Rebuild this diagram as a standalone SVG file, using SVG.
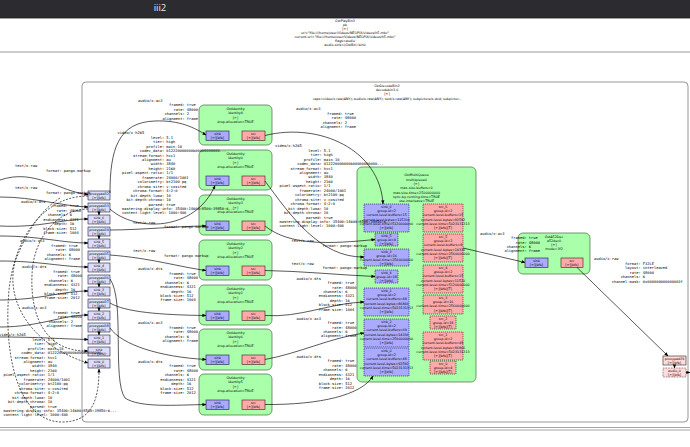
<svg xmlns="http://www.w3.org/2000/svg" width="690" height="447" viewBox="0 0 690 447">
<defs>
<style>
.c{font-family:"DejaVu Sans Mono","Liberation Mono",monospace;font-size:3.7px;fill:#000}
.n{font-family:"DejaVu Sans","Liberation Sans",sans-serif;font-size:3.3px;text-anchor:middle;fill:#000}
.el{fill:#aaffaa;stroke:#3f6f3f;stroke-width:.7}
.bin{fill:#fff;stroke:#8c8c8c;stroke-width:.9}
.sk{fill:#aaaaff;stroke:#1a1a3a;stroke-width:.6}
.sr{fill:#ffaaaa;stroke:#3a1a1a;stroke-width:.6}
.rq{stroke-dasharray:1.2 .8}
.gp{fill:#ddddff;stroke:#1a1a3a;stroke-width:.6}
.gs{fill:#ffdddd;stroke:#3a1a1a;stroke-width:.6}
.e{fill:none;stroke:#000;stroke-width:.65;marker-end:url(#a)}
.d{stroke-dasharray:2 1.4}
</style>
<marker id="a" viewBox="0 0 10 10" refX="9" refY="5" markerWidth="4" markerHeight="4" markerUnits="userSpaceOnUse" orient="auto"><path d="M0,1 L10,5 L0,9z" fill="#000"/></marker>
</defs>
<rect x="0" y="0" width="690" height="447" fill="#fff"/>
<rect x="0" y="0" width="690" height="18" fill="#2c2c30"/>
<line x1="0" y1="18" x2="690" y2="18" stroke="#1a1a1a" stroke-width="0.8"/>
<text x="160" y="11" font-family="Open Sans, DejaVu Sans, sans-serif" font-size="9.5" fill="#e8e8e8" text-anchor="middle">iii2</text>
<g id="title">
<text class="n" x="345" y="22.2">GstPlayBin3</text>
<text class="n" x="345" y="26.2">pb</text>
<text class="n" x="345" y="30.2">[&gt;]</text>
<text class="n" x="345" y="34.2">uri="file:///home/user/Videos/NEOPIX/videos/h5.mkv"</text>
<text class="n" x="345" y="38.2">current-uri="file:///home/user/Videos/NEOPIX/videos/h5.mkv"</text>
<text class="n" x="345" y="42.2">flags=audio</text>
<text class="n" x="345" y="46.2">audio-sink=(GstBin) bin0</text>
</g>
<line x1="0" y1="52" x2="690" y2="52" stroke="#9a9a9a" stroke-width="1"/>
<g id="decodebin3-0">
<rect class="bin" x="82" y="82" width="606" height="340" rx="4"/>
<text class="n" x="387" y="87.2">GstDecodeBin3</text>
<text class="n" x="387" y="91.2">decodebin3-0</text>
<text class="n" x="387" y="95.2">[&gt;]</text>
<text class="n" x="387" y="99.5">caps=video/x-raw(ANY); audio/x-raw(ANY); text/x-raw(ANY); subpicture/x-dvd; subpictur...</text>
</g>
<line x1="0" y1="427.5" x2="690" y2="427.5" stroke="#9a9a9a" stroke-width="0.9"/>
<line x1="0" y1="430" x2="690" y2="430" stroke="#9a9a9a" stroke-width="0.9"/>

<g id="pads-left">
<rect class="gp" x="88" y="191" width="22" height="9"/><text class="n" x="99" y="194.7">proxypad32</text><text class="n" x="99" y="198.6">[&gt;][bfb]</text>
<rect class="gp" x="88" y="203" width="22" height="9"/><text class="n" x="99" y="206.7">proxypad33</text><text class="n" x="99" y="210.6">[&gt;][bfb]</text>
<rect class="gp" x="88" y="215" width="22" height="9"/><text class="n" x="99" y="218.7">sink_6</text><text class="n" x="99" y="222.6">[&gt;][bfb]</text>
<rect class="gp" x="88" y="227" width="22" height="9"/><text class="n" x="99" y="230.7">proxypad34</text><text class="n" x="99" y="234.6">[&gt;][bfb]</text>
<rect class="gp" x="88" y="239" width="22" height="9"/><text class="n" x="99" y="242.7">sink_5</text><text class="n" x="99" y="246.6">[&gt;][bfb]</text>
<rect class="gp" x="88" y="251" width="22" height="9"/><text class="n" x="99" y="254.7">proxypad35</text><text class="n" x="99" y="258.6">[&gt;][bfb]</text>
<rect class="gp" x="88" y="263" width="22" height="9"/><text class="n" x="99" y="266.7">sink_4</text><text class="n" x="99" y="270.6">[&gt;][bfb]</text>
<rect class="gp" x="88" y="275" width="22" height="9"/><text class="n" x="99" y="278.7">proxypad36</text><text class="n" x="99" y="282.6">[&gt;][bfb]</text>
<rect class="gp" x="88" y="287" width="22" height="9"/><text class="n" x="99" y="290.7">sink_3</text><text class="n" x="99" y="294.6">[&gt;][bfb]</text>
<rect class="gp" x="88" y="299" width="22" height="9"/><text class="n" x="99" y="302.7">proxypad37</text><text class="n" x="99" y="306.6">[&gt;][bfb]</text>
<rect class="gp" x="88" y="311" width="22" height="9"/><text class="n" x="99" y="314.7">sink_2</text><text class="n" x="99" y="318.6">[&gt;][bfb]</text>
<rect class="gp" x="88" y="323" width="22" height="9"/><text class="n" x="99" y="326.7">proxypad38</text><text class="n" x="99" y="330.6">[&gt;][bfb]</text>
<rect class="gp" x="88" y="335" width="22" height="9"/><text class="n" x="99" y="338.7">sink_1</text><text class="n" x="99" y="342.6">[&gt;][bfb]</text>
<rect class="gp" x="88" y="347" width="22" height="9"/><text class="n" x="99" y="350.7">sink</text><text class="n" x="99" y="354.6">[&gt;][bfb]</text>
<rect class="gp" x="88" y="359" width="22" height="9"/><text class="n" x="99" y="362.7">sink_0</text><text class="n" x="99" y="366.6">[&gt;][bfb]</text>
</g>

<g id="identity4">
<rect class="el" x="199" y="105" width="73" height="40" rx="5"/>
<text class="n" x="235.5" y="110.2">GstIdentity</text><text class="n" x="235.5" y="114.4">identity4</text><text class="n" x="235.5" y="118.5">[&gt;]</text><text class="n" x="235.5" y="122.6">drop-allocation=TRUE</text>
<rect class="sk" x="206" y="131" width="23" height="9.5"/><text class="n" x="217.5" y="134.6">sink</text><text class="n" x="217.5" y="138.6">[&gt;][bfb]</text>
<rect class="sr" x="242" y="131" width="23" height="9.5"/><text class="n" x="253.5" y="134.6">src</text><text class="n" x="253.5" y="138.6">[&gt;][bfb]</text>
</g>
<g id="identity0">
<rect class="el" x="199" y="150" width="73" height="40" rx="5"/>
<text class="n" x="235.5" y="155.2">GstIdentity</text><text class="n" x="235.5" y="159.4">identity0</text><text class="n" x="235.5" y="163.5">[&gt;]</text><text class="n" x="235.5" y="167.6">drop-allocation=TRUE</text>
<rect class="sk" x="206" y="176" width="23" height="9.5"/><text class="n" x="217.5" y="179.6">sink</text><text class="n" x="217.5" y="183.6">[&gt;][bfb]</text>
<rect class="sr" x="242" y="176" width="23" height="9.5"/><text class="n" x="253.5" y="179.6">src</text><text class="n" x="253.5" y="183.6">[&gt;][bfb]</text>
</g>
<g id="identity3">
<rect class="el" x="199" y="195" width="73" height="40" rx="5"/>
<text class="n" x="235.5" y="200.2">GstIdentity</text><text class="n" x="235.5" y="204.4">identity3</text><text class="n" x="235.5" y="208.5">[&gt;]</text><text class="n" x="235.5" y="212.6">drop-allocation=TRUE</text>
<rect class="sk" x="206" y="221" width="23" height="9.5"/><text class="n" x="217.5" y="224.6">sink</text><text class="n" x="217.5" y="228.6">[&gt;][bfb]</text>
<rect class="sr" x="242" y="221" width="23" height="9.5"/><text class="n" x="253.5" y="224.6">src</text><text class="n" x="253.5" y="228.6">[&gt;][bfb]</text>
</g>
<g id="identity2">
<rect class="el" x="199" y="240" width="73" height="40" rx="5"/>
<text class="n" x="235.5" y="245.2">GstIdentity</text><text class="n" x="235.5" y="249.4">identity2</text><text class="n" x="235.5" y="253.5">[&gt;]</text><text class="n" x="235.5" y="257.6">drop-allocation=TRUE</text>
<rect class="sk" x="206" y="266" width="23" height="9.5"/><text class="n" x="217.5" y="269.6">sink</text><text class="n" x="217.5" y="273.6">[&gt;][bfb]</text>
<rect class="sr" x="242" y="266" width="23" height="9.5"/><text class="n" x="253.5" y="269.6">src</text><text class="n" x="253.5" y="273.6">[&gt;][bfb]</text>
</g>
<g id="identity1">
<rect class="el" x="199" y="285" width="73" height="40" rx="5"/>
<text class="n" x="235.5" y="290.2">GstIdentity</text><text class="n" x="235.5" y="294.4">identity1</text><text class="n" x="235.5" y="298.5">[&gt;]</text><text class="n" x="235.5" y="302.6">drop-allocation=TRUE</text>
<rect class="sk" x="206" y="311" width="23" height="9.5"/><text class="n" x="217.5" y="314.6">sink</text><text class="n" x="217.5" y="318.6">[&gt;][bfb]</text>
<rect class="sr" x="242" y="311" width="23" height="9.5"/><text class="n" x="253.5" y="314.6">src</text><text class="n" x="253.5" y="318.6">[&gt;][bfb]</text>
</g>
<g id="identity6">
<rect class="el" x="199" y="329" width="73" height="41" rx="5"/>
<text class="n" x="235.5" y="334.2">GstIdentity</text><text class="n" x="235.5" y="338.4">identity6</text><text class="n" x="235.5" y="342.5">[&gt;]</text><text class="n" x="235.5" y="346.6">drop-allocation=TRUE</text>
<rect class="sk" x="206" y="355" width="23" height="9.5"/><text class="n" x="217.5" y="358.6">sink</text><text class="n" x="217.5" y="362.6">[&gt;][bfb]</text>
<rect class="sr" x="242" y="355" width="23" height="9.5"/><text class="n" x="253.5" y="358.6">src</text><text class="n" x="253.5" y="362.6">[&gt;][bfb]</text>
</g>
<g id="identity5">
<rect class="el" x="199" y="374" width="73" height="41" rx="5"/>
<text class="n" x="235.5" y="379.2">GstIdentity</text><text class="n" x="235.5" y="383.4">identity5</text><text class="n" x="235.5" y="387.5">[&gt;]</text><text class="n" x="235.5" y="391.6">drop-allocation=TRUE</text>
<rect class="sk" x="206" y="400" width="23" height="9.5"/><text class="n" x="217.5" y="403.6">sink</text><text class="n" x="217.5" y="407.6">[&gt;][bfb]</text>
<rect class="sr" x="242" y="400" width="23" height="9.5"/><text class="n" x="253.5" y="403.6">src</text><text class="n" x="253.5" y="407.6">[&gt;][bfb]</text>
</g>

<g id="multiqueue0">
<rect class="el" x="357" y="167" width="119" height="215" rx="5"/>
<text class="n" x="416.5" y="176.3">GstMultiQueue</text>
<text class="n" x="416.5" y="180.6">multiqueue0</text>
<text class="n" x="416.5" y="184.9">[&gt;]</text>
<text class="n" x="416.5" y="189.2">max-size-buffers=0</text>
<text class="n" x="416.5" y="193.5">max-size-time=2500000000</text>
<text class="n" x="416.5" y="197.8">sync-by-running-time=TRUE</text>
<text class="n" x="416.5" y="202.1">use-interleave=TRUE</text>
<rect class="sk rq" x="364" y="204" width="45" height="28"/>
<text class="n" x="386.5" y="207.6">sink_6</text><text class="n" x="386.5" y="211.9">group-id=2</text><text class="n" x="386.5" y="216.2">current-level-buffers=15</text><text class="n" x="386.5" y="220.5">current-level-bytes=115200</text><text class="n" x="386.5" y="224.8">current-level-time=5120000000</text><text class="n" x="386.5" y="229.1">[&gt;][bfb]</text>
<rect class="sk rq" x="375" y="233" width="23" height="13"/>
<text class="n" x="386.5" y="236.7">sink_5</text><text class="n" x="386.5" y="240.7">group-id=4</text><text class="n" x="386.5" y="244.7">[&gt;][bfb]</text>
<rect class="sk rq" x="364" y="249" width="45" height="17"/>
<text class="n" x="386.5" y="252.6">sink_3</text><text class="n" x="386.5" y="256.6">group-id=16</text><text class="n" x="386.5" y="260.6">current-level-time=2560000000</text><text class="n" x="386.5" y="264.6">[&gt;][bfb]</text>
<rect class="sk rq" x="375" y="270" width="23" height="13"/>
<text class="n" x="386.5" y="273.7">sink_4</text><text class="n" x="386.5" y="277.7">group-id=18</text><text class="n" x="386.5" y="281.7">[&gt;][bfb]</text>
<rect class="sk rq" x="364" y="288" width="45" height="28"/>
<text class="n" x="386.5" y="291.6">sink_1</text><text class="n" x="386.5" y="295.9">group-id=2</text><text class="n" x="386.5" y="300.2">current-level-buffers=48</text><text class="n" x="386.5" y="304.5">current-level-bytes=86866</text><text class="n" x="386.5" y="308.8">current-level-time=5023131313</text><text class="n" x="386.5" y="313.1">[&gt;][bfb]</text>
<rect class="sk rq" x="364" y="319" width="45" height="28"/>
<text class="n" x="386.5" y="322.6">sink_2</text><text class="n" x="386.5" y="326.9">group-id=2</text><text class="n" x="386.5" y="331.2">current-level-buffers=69</text><text class="n" x="386.5" y="335.5">current-level-bytes=14336</text><text class="n" x="386.5" y="339.8">current-level-time=2560000000</text><text class="n" x="386.5" y="344.1">[&gt;][bfb]</text>
<rect class="sk rq" x="364" y="348" width="45" height="28"/>
<text class="n" x="386.5" y="351.6">sink_0</text><text class="n" x="386.5" y="355.9">group-id=2</text><text class="n" x="386.5" y="360.2">current-level-buffers=48</text><text class="n" x="386.5" y="364.5">current-level-bytes=92592</text><text class="n" x="386.5" y="368.8">current-level-time=5023131313</text><text class="n" x="386.5" y="373.1">[&gt;][bfb]</text>
<rect class="sr rq" x="423" y="204" width="40" height="28"/>
<text class="n" x="443" y="207.6">src_6</text><text class="n" x="443" y="211.9">group-id=2</text><text class="n" x="443" y="216.2">current-level-buffers=15</text><text class="n" x="443" y="220.5">current-level-bytes=92592</text><text class="n" x="443" y="224.8">current-level-time=5023131313</text><text class="n" x="443" y="229.1">[&gt;][bfb][T]</text>
<rect class="sr rq" x="423" y="234" width="40" height="28"/>
<text class="n" x="443" y="237.6">src_5</text><text class="n" x="443" y="241.9">group-id=2</text><text class="n" x="443" y="246.2">current-level-buffers=8</text><text class="n" x="443" y="250.5">current-level-bytes=14336</text><text class="n" x="443" y="254.8">current-level-time=2560000000</text><text class="n" x="443" y="259.1">[&gt;][bfb][T]</text>
<rect class="sr rq" x="423" y="265" width="40" height="28"/>
<text class="n" x="443" y="268.6">src_4</text><text class="n" x="443" y="272.9">group-id=2</text><text class="n" x="443" y="277.2">current-level-buffers=15</text><text class="n" x="443" y="281.5">current-level-bytes=11520</text><text class="n" x="443" y="285.8">current-level-time=5120000000</text><text class="n" x="443" y="290.1">[&gt;][bfb][T]</text>
<rect class="sr rq" x="423" y="295" width="40" height="19"/>
<text class="n" x="443" y="298.6">src_3</text><text class="n" x="443" y="302.9">group-id=16</text><text class="n" x="443" y="307.2">current-level-time=2560000000</text><text class="n" x="443" y="311.5">[&gt;][bfb][T]</text>
<rect class="sr rq" x="430" y="316" width="26" height="13"/>
<text class="n" x="443" y="319.7">src_2</text><text class="n" x="443" y="323.7">group-id=18</text><text class="n" x="443" y="327.7">[&gt;][bfb][T]</text>
<rect class="sr rq" x="423" y="332" width="40" height="28"/>
<text class="n" x="443" y="335.6">src_1</text><text class="n" x="443" y="339.9">group-id=2</text><text class="n" x="443" y="344.2">current-level-buffers=48</text><text class="n" x="443" y="348.5">current-level-bytes=86866</text><text class="n" x="443" y="352.8">current-level-time=5023131313</text><text class="n" x="443" y="357.1">[&gt;][bfb][T]</text>
<rect class="sr rq" x="430" y="361" width="26" height="13"/>
<text class="n" x="443" y="364.7">src_0</text><text class="n" x="443" y="368.7">group-id=4</text><text class="n" x="443" y="372.7">[&gt;][bfb][T]</text>
</g>

<g id="a52dec0">
<rect class="el" x="518" y="233" width="72" height="41" rx="5"/>
<text class="n" x="554" y="237.5">GstA52Dec</text><text class="n" x="554" y="241.5">a52dec0</text><text class="n" x="554" y="245.5">[&gt;]</text><text class="n" x="554" y="249.5">mode=3f2</text>
<rect class="sk" x="525" y="258" width="23" height="9.5"/><text class="n" x="536.5" y="261.6">sink</text><text class="n" x="536.5" y="265.6">[&gt;][bfb]</text>
<rect class="sr" x="561" y="258" width="22" height="9.5"/><text class="n" x="572" y="261.6">src</text><text class="n" x="572" y="265.6">[&gt;][bfb]</text>
</g>
<g id="pads-right">
<rect class="gs" x="663" y="356" width="23" height="9"/><text class="n" x="674.5" y="359.7">proxypad39</text><text class="n" x="674.5" y="363.6">[&gt;][bfb]</text>
<rect class="gs" x="663" y="368" width="23" height="9" stroke-dasharray="0.8 0.8"/><text class="n" x="674.5" y="371.7">audio_0</text><text class="n" x="674.5" y="375.6">[&gt;][bfb]</text>
</g>

<g id="connectors">
<path class="e" d="M0,180 C35,168 60,192 88,194.5"/>
<path class="e" d="M0,197 C35,197 60,206 88,207"/>
<path class="e" d="M0,226 C40,228 62,219 88,219"/>
<path class="e" d="M0,236 C40,236 62,243 88,243"/>
<path class="e" d="M0,261 C40,261 62,267 88,267"/>
<path class="e" d="M0,300 C40,300 62,291 88,291"/>
<path class="e" d="M0,327 C40,327 62,315 88,315"/>
<path class="e" d="M0,337 C40,337 62,339 88,339.5"/>
<path class="e d" d="M88,196 C45,196 15,235 9,290 C3,360 20,422 62,422 C92,422 99,400 99,369"/>
<path class="e d" d="M88,209 C55,210 33,240 32,275 C30,320 48,352 88,351"/>
<path class="e d" d="M60,198 C40,210 25,235 15,262 C5,300 30,345 88,363"/>
<path class="e" d="M99,212 L99,215"/>
<path class="e" d="M99,236 L99,239"/>
<path class="e" d="M99,260 L99,263"/>
<path class="e" d="M99,284 L99,287"/>
<path class="e" d="M99,308 L99,311"/>
<path class="e" d="M99,332 L99,335"/>
<path class="e" d="M110,193 C110,150 118,122 155,121 C180,120 195,128 206,135"/>
<path class="e" d="M110,209 C135,232 195,232 215,185.5"/>
<path class="e" d="M110,230 C140,230 180,226 206,226"/>
<path class="e" d="M110,255 C150,258 180,267 206,270.5"/>
<path class="e" d="M110,303 C125,312 160,315 206,315.5"/>
<path class="e" d="M110,328 C122,345 160,357 206,359.5"/>
<path class="e" d="M110,279 C125,300 112,380 125,398 C140,408 175,405 206,404.5"/>
<path class="e" d="M265,135.5 C320,122 380,150 383,204"/>
<path class="e" d="M265,181 C290,215 320,258 364,257"/>
<path class="e" d="M265,226 C290,246 330,244 375,239.5"/>
<path class="e" d="M265,270.5 C300,271 340,275 375,276.5"/>
<path class="e" d="M265,315.5 C300,318 330,303 364,302"/>
<path class="e" d="M265,359.5 C300,353 330,338 364,333"/>
<path class="e" d="M265,404.5 C320,405 362,395 373,376"/>
<path class="e" d="M463,248 L525,262.5"/>
<path class="e" d="M577,267.5 L668,356"/>
<path class="e" d="M674.5,365 L674.5,368"/>
<path class="e" d="M686,372.5 L690,372.5"/>
</g>

<g id="caps">
<text class="c" xml:space="preserve"><tspan x="15" y="167.3">text/x-raw</tspan><tspan x="15" dy="4.45">              format: pango-markup</tspan></text>
<text class="c" xml:space="preserve"><tspan x="15" y="189.3">text/x-raw</tspan><tspan x="15" dy="4.45">              format: pango-markup</tspan></text>
<text class="c" xml:space="preserve"><tspan x="21" y="203">audio/x-dts</tspan><tspan x="21" dy="4.45">              framed: true</tspan><tspan x="21" dy="4.45">                rate: 48000</tspan><tspan x="21" dy="4.45">            channels: 6</tspan><tspan x="21" dy="4.45">          endianness: 4321</tspan><tspan x="21" dy="4.45">               depth: 16</tspan><tspan x="21" dy="4.45">          block-size: 512</tspan><tspan x="21" dy="4.45">          frame-size: 1004</tspan></text>
<text class="c" xml:space="preserve"><tspan x="20" y="242.3">audio/x-ac3</tspan><tspan x="20" dy="4.45">              framed: true</tspan><tspan x="20" dy="4.45">                rate: 48000</tspan><tspan x="20" dy="4.45">            channels: 6</tspan><tspan x="20" dy="4.45">           alignment: frame</tspan></text>
<text class="c" xml:space="preserve"><tspan x="22" y="268.3">audio/x-dts</tspan><tspan x="22" dy="4.45">              framed: true</tspan><tspan x="22" dy="4.45">                rate: 48000</tspan><tspan x="22" dy="4.45">            channels: 6</tspan><tspan x="22" dy="4.45">          endianness: 4321</tspan><tspan x="22" dy="4.45">               depth: 16</tspan><tspan x="22" dy="4.45">          block-size: 512</tspan><tspan x="22" dy="4.45">          frame-size: 2012</tspan></text>
<text class="c" xml:space="preserve"><tspan x="22" y="309.3">audio/x-ac3</tspan><tspan x="22" dy="4.45">              framed: true</tspan><tspan x="22" dy="4.45">                rate: 48000</tspan><tspan x="22" dy="4.45">            channels: 2</tspan><tspan x="22" dy="4.45">           alignment: frame</tspan></text>
<text class="c" xml:space="preserve"><tspan x="-1" y="336.3">video/x-h265</tspan><tspan x="-1" dy="4.45">               level: 5.1</tspan><tspan x="-1" dy="4.45">                tier: high</tspan><tspan x="-1" dy="4.45">             profile: main-10</tspan><tspan x="-1" dy="4.45">          codec_data: 012220000000b00000000000...</tspan><tspan x="-1" dy="4.45">       stream-format: hvc1</tspan><tspan x="-1" dy="4.45">           alignment: au</tspan><tspan x="-1" dy="4.45">               width: 3840</tspan><tspan x="-1" dy="4.45">              height: 2160</tspan><tspan x="-1" dy="4.45">  pixel-aspect-ratio: 1/1</tspan><tspan x="-1" dy="4.45">           framerate: 24000/1001</tspan><tspan x="-1" dy="4.45">         colorimetry: bt2100-pq</tspan><tspan x="-1" dy="4.45">         chroma-site: v-cosited</tspan><tspan x="-1" dy="4.45">       chroma-format: 4:2:0</tspan><tspan x="-1" dy="4.45">      bit-depth-luma: 10</tspan><tspan x="-1" dy="4.45">    bit-depth-chroma: 10</tspan><tspan x="-1" dy="4.45">              parsed: true</tspan><tspan x="-1" dy="4.45">  mastering-display-info: 35400:14600:8500:39850:6...</tspan><tspan x="-1" dy="4.45">  content-light-level: 1000:400</tspan></text>

<text class="c" xml:space="preserve"><tspan x="138" y="102">audio/x-ac3</tspan><tspan x="138" dy="4.45">              framed: true</tspan><tspan x="138" dy="4.45">                rate: 48000</tspan><tspan x="138" dy="4.45">            channels: 2</tspan><tspan x="138" dy="4.45">           alignment: frame</tspan></text>
<text class="c" xml:space="preserve"><tspan x="117.5" y="134.3">video/x-h265</tspan><tspan x="117.5" dy="4.45">               level: 5.1</tspan><tspan x="117.5" dy="4.45">                tier: high</tspan><tspan x="117.5" dy="4.45">             profile: main-10</tspan><tspan x="117.5" dy="4.45">          codec_data: 012220000000b00000000000...</tspan><tspan x="117.5" dy="4.45">       stream-format: hvc1</tspan><tspan x="117.5" dy="4.45">           alignment: au</tspan><tspan x="117.5" dy="4.45">               width: 3840</tspan><tspan x="117.5" dy="4.45">              height: 2160</tspan><tspan x="117.5" dy="4.45">  pixel-aspect-ratio: 1/1</tspan><tspan x="117.5" dy="4.45">           framerate: 24000/1001</tspan><tspan x="117.5" dy="4.45">         colorimetry: bt2100-pq</tspan><tspan x="117.5" dy="4.45">         chroma-site: v-cosited</tspan><tspan x="117.5" dy="4.45">       chroma-format: 4:2:0</tspan><tspan x="117.5" dy="4.45">      bit-depth-luma: 10</tspan><tspan x="117.5" dy="4.45">    bit-depth-chroma: 10</tspan><tspan x="117.5" dy="4.45">              parsed: true</tspan><tspan x="117.5" dy="4.45">  mastering-display-info: 35400:14600:8500:39850:6...</tspan><tspan x="117.5" dy="4.45">  content-light-level: 1000:400</tspan></text>
<text class="c" xml:space="preserve"><tspan x="133" y="224">text/x-raw</tspan><tspan x="133" dy="4.45">              format: pango-markup</tspan></text>
<text class="c" xml:space="preserve"><tspan x="133" y="252.3">text/x-raw</tspan><tspan x="133" dy="4.45">              format: pango-markup</tspan></text>
<text class="c" xml:space="preserve"><tspan x="138" y="270.3">audio/x-dts</tspan><tspan x="138" dy="4.45">              framed: true</tspan><tspan x="138" dy="4.45">                rate: 48000</tspan><tspan x="138" dy="4.45">            channels: 6</tspan><tspan x="138" dy="4.45">          endianness: 4321</tspan><tspan x="138" dy="4.45">               depth: 16</tspan><tspan x="138" dy="4.45">          block-size: 512</tspan><tspan x="138" dy="4.45">          frame-size: 1004</tspan></text>
<text class="c" xml:space="preserve"><tspan x="138" y="324.3">audio/x-ac3</tspan><tspan x="138" dy="4.45">              framed: true</tspan><tspan x="138" dy="4.45">                rate: 48000</tspan><tspan x="138" dy="4.45">            channels: 6</tspan><tspan x="138" dy="4.45">           alignment: frame</tspan></text>
<text class="c" xml:space="preserve"><tspan x="138" y="363">audio/x-dts</tspan><tspan x="138" dy="4.45">              framed: true</tspan><tspan x="138" dy="4.45">                rate: 48000</tspan><tspan x="138" dy="4.45">            channels: 6</tspan><tspan x="138" dy="4.45">          endianness: 4321</tspan><tspan x="138" dy="4.45">               depth: 16</tspan><tspan x="138" dy="4.45">          block-size: 512</tspan><tspan x="138" dy="4.45">          frame-size: 2012</tspan></text>

<text class="c" xml:space="preserve"><tspan x="296" y="110.3">audio/x-ac3</tspan><tspan x="296" dy="4.45">              framed: true</tspan><tspan x="296" dy="4.45">                rate: 48000</tspan><tspan x="296" dy="4.45">            channels: 2</tspan><tspan x="296" dy="4.45">           alignment: frame</tspan></text>
<text class="c" xml:space="preserve"><tspan x="275" y="147.3">video/x-h265</tspan><tspan x="275" dy="4.45">               level: 5.1</tspan><tspan x="275" dy="4.45">                tier: high</tspan><tspan x="275" dy="4.45">             profile: main-10</tspan><tspan x="275" dy="4.45">          codec_data: 012220000000b00000000000...</tspan><tspan x="275" dy="4.45">       stream-format: hvc1</tspan><tspan x="275" dy="4.45">           alignment: au</tspan><tspan x="275" dy="4.45">               width: 3840</tspan><tspan x="275" dy="4.45">              height: 2160</tspan><tspan x="275" dy="4.45">  pixel-aspect-ratio: 1/1</tspan><tspan x="275" dy="4.45">           framerate: 24000/1001</tspan><tspan x="275" dy="4.45">         colorimetry: bt2100-pq</tspan><tspan x="275" dy="4.45">         chroma-site: v-cosited</tspan><tspan x="275" dy="4.45">       chroma-format: 4:2:0</tspan><tspan x="275" dy="4.45">      bit-depth-luma: 10</tspan><tspan x="275" dy="4.45">    bit-depth-chroma: 10</tspan><tspan x="275" dy="4.45">              parsed: true</tspan><tspan x="275" dy="4.45">  mastering-display-info: 35400:14600:8500:39850:6...</tspan><tspan x="275" dy="4.45">  content-light-level: 1000:400</tspan></text>
<text class="c" xml:space="preserve"><tspan x="291.5" y="242.3">text/x-raw</tspan><tspan x="291.5" dy="4.45">              format: pango-markup</tspan></text>
<text class="c" xml:space="preserve"><tspan x="291.5" y="264.6">text/x-raw</tspan><tspan x="291.5" dy="4.45">              format: pango-markup</tspan></text>
<text class="c" xml:space="preserve"><tspan x="296.5" y="279.6">audio/x-dts</tspan><tspan x="296.5" dy="4.45">              framed: true</tspan><tspan x="296.5" dy="4.45">                rate: 48000</tspan><tspan x="296.5" dy="4.45">            channels: 6</tspan><tspan x="296.5" dy="4.45">          endianness: 4321</tspan><tspan x="296.5" dy="4.45">               depth: 16</tspan><tspan x="296.5" dy="4.45">          block-size: 512</tspan><tspan x="296.5" dy="4.45">          frame-size: 1004</tspan></text>
<text class="c" xml:space="preserve"><tspan x="296.5" y="319.6">audio/x-ac3</tspan><tspan x="296.5" dy="4.45">              framed: true</tspan><tspan x="296.5" dy="4.45">                rate: 48000</tspan><tspan x="296.5" dy="4.45">            channels: 6</tspan><tspan x="296.5" dy="4.45">           alignment: frame</tspan></text>
<text class="c" xml:space="preserve"><tspan x="296.5" y="358">audio/x-dts</tspan><tspan x="296.5" dy="4.45">              framed: true</tspan><tspan x="296.5" dy="4.45">                rate: 48000</tspan><tspan x="296.5" dy="4.45">            channels: 6</tspan><tspan x="296.5" dy="4.45">          endianness: 4321</tspan><tspan x="296.5" dy="4.45">               depth: 16</tspan><tspan x="296.5" dy="4.45">          block-size: 512</tspan><tspan x="296.5" dy="4.45">          frame-size: 2012</tspan></text>

<text class="c" xml:space="preserve"><tspan x="480" y="234.6">audio/x-ac3</tspan><tspan x="480" dy="4.45">              framed: true</tspan><tspan x="480" dy="4.45">                rate: 48000</tspan><tspan x="480" dy="4.45">            channels: 6</tspan><tspan x="480" dy="4.45">           alignment: frame</tspan></text>
<text class="c" xml:space="preserve"><tspan x="594" y="260.3">audio/x-raw</tspan><tspan x="594" dy="4.45">              format: F32LE</tspan><tspan x="594" dy="4.45">              layout: interleaved</tspan><tspan x="594" dy="4.45">                rate: 48000</tspan><tspan x="594" dy="4.45">            channels: 6</tspan><tspan x="594" dy="4.45">        channel-mask: 0x000000000000003f</tspan></text>
</g>
</svg>
